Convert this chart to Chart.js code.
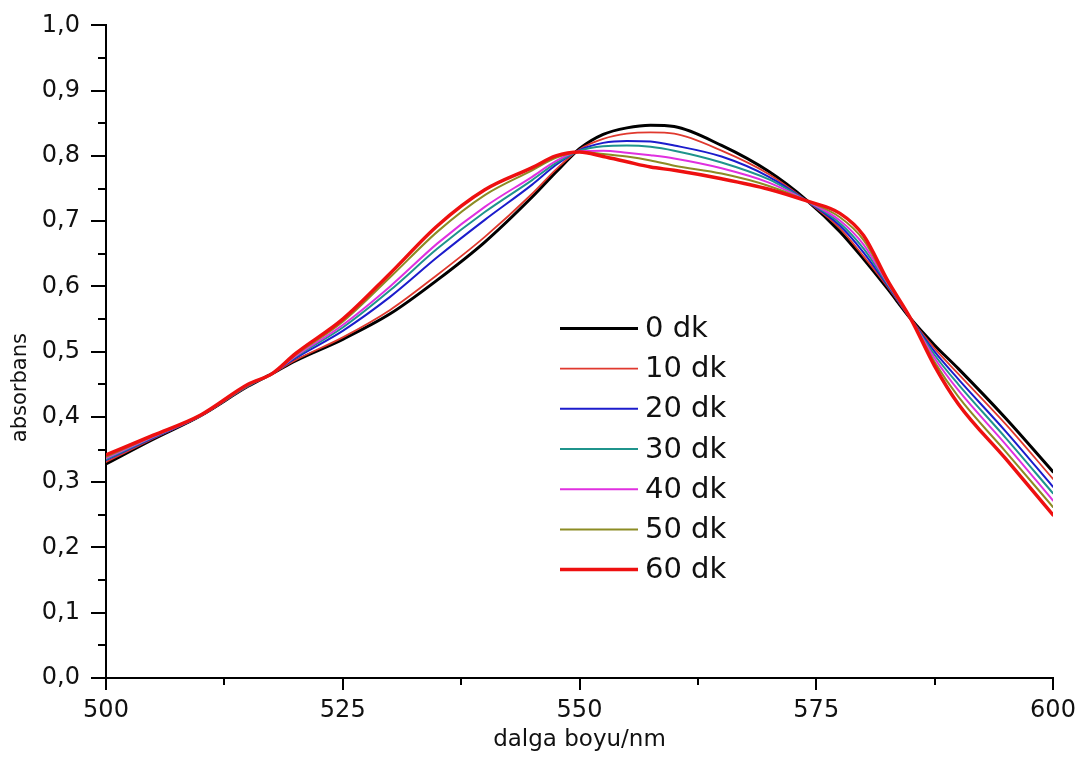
<!DOCTYPE html>
<html>
<head>
<meta charset="utf-8">
<script src="https://cdn.jsdelivr.net/npm/chart.js@4"></script>
<style>
    body { margin: 0; background: #fff; }
    #wrap { width: 1090px; height: 760px; }
</style>
</head>
<body>
<div id="wrap"><canvas id="chart" width="1090" height="760"></canvas></div>
<script>
//Wavelengths (nm) and absorbance for each time step
const wavelengths = [500, 505, 510, 515, 517.5, 520, 525, 530, 535, 540, 545, 547.5, 550, 552.5,
    555, 557.5, 560, 565, 570, 574, 577.5, 580, 582.5, 585, 587.5, 590, 595, 600];

const dk0 = [0.328, 0.366, 0.402, 0.447, 0.466, 0.486, 0.519, 0.558, 0.610, 0.668, 0.737, 0.775, 0.811, 0.833,
    0.843, 0.847, 0.845, 0.816, 0.776, 0.732, 0.684, 0.642, 0.597, 0.550, 0.510, 0.474, 0.398, 0.316];
const dk10 = [0.331, 0.367, 0.402, 0.447, 0.466, 0.487, 0.522, 0.564, 0.618, 0.676, 0.742, 0.779, 0.810, 0.826,
    0.834, 0.836, 0.834, 0.808, 0.772, 0.731, 0.689, 0.646, 0.600, 0.550, 0.505, 0.466, 0.389, 0.305];
const dk20 = [0.334, 0.368, 0.402, 0.448, 0.466, 0.490, 0.532, 0.584, 0.645, 0.702, 0.756, 0.786, 0.809, 0.820,
    0.823, 0.822, 0.816, 0.799, 0.768, 0.731, 0.693, 0.652, 0.602, 0.550, 0.500, 0.458, 0.378, 0.293];
const dk30 = [0.335, 0.369, 0.402, 0.448, 0.466, 0.492, 0.537, 0.594, 0.658, 0.714, 0.763, 0.789, 0.808, 0.815,
    0.816, 0.814, 0.808, 0.790, 0.764, 0.731, 0.697, 0.658, 0.604, 0.550, 0.495, 0.450, 0.368, 0.283];
const dk40 = [0.337, 0.370, 0.402, 0.449, 0.466, 0.493, 0.541, 0.600, 0.666, 0.722, 0.768, 0.792, 0.807, 0.808,
    0.805, 0.801, 0.796, 0.781, 0.759, 0.731, 0.701, 0.664, 0.606, 0.550, 0.490, 0.441, 0.358, 0.272];
const dk50 = [0.339, 0.371, 0.403, 0.449, 0.466, 0.495, 0.546, 0.614, 0.684, 0.740, 0.778, 0.797, 0.806, 0.803,
    0.799, 0.793, 0.785, 0.773, 0.754, 0.731, 0.706, 0.671, 0.608, 0.550, 0.484, 0.431, 0.347, 0.262];
const dk60 = [0.342, 0.372, 0.403, 0.450, 0.466, 0.497, 0.550, 0.620, 0.693, 0.748, 0.782, 0.800, 0.806, 0.799,
    0.791, 0.783, 0.778, 0.765, 0.749, 0.731, 0.712, 0.678, 0.610, 0.550, 0.478, 0.420, 0.336, 0.250];

const seriesLabels = ['0 dk', '10 dk', '20 dk', '30 dk', '40 dk', '50 dk', '60 dk'];
const seriesValues = [dk0, dk10, dk20, dk30, dk40, dk50, dk60];
const seriesColors = ['#000000', '#e0392e', '#1c1ccc', '#1f948c', '#e030e0', '#8c8c24', '#ee1010'];
const seriesWidths = [3, 1.8, 2, 2, 2, 2, 3.5];

const xTicks = [500, 525, 550, 575, 600];
const yMinorTicks = [0.05, 0.15, 0.25, 0.35, 0.45, 0.55, 0.65, 0.75, 0.85, 0.95];
const xMinorTicks = [512.5, 537.5, 562.5, 587.5];

const FONT = "'DejaVu Sans', sans-serif";

//Minor tick marks on both axes
const minorTicks = {
    id: 'minorTicks',
    afterDraw(chart) {
        const { ctx, scales: { x, y } } = chart;
        ctx.save();
        ctx.strokeStyle = '#000';
        ctx.lineWidth = 2;
        ctx.beginPath();
        xMinorTicks.forEach(v => {
            const px = Math.round(x.getPixelForValue(v));
            ctx.moveTo(px, y.bottom);
            ctx.lineTo(px, y.bottom + 7);
        });
        yMinorTicks.forEach(v => {
            const py = Math.round(y.getPixelForValue(v));
            ctx.moveTo(x.left, py);
            ctx.lineTo(x.left - 8, py);
        });
        ctx.stroke();
        ctx.restore();
    }
};

//Vertical axis title, sitting a bit below the middle
const yTitle = {
    id: 'yTitle',
    afterDraw(chart) {
        const { ctx, scales: { y } } = chart;
        ctx.save();
        ctx.translate(21, y.getPixelForValue(0.445));
        ctx.rotate(-Math.PI / 2);
        ctx.font = '21px ' + FONT;
        ctx.fillStyle = '#111';
        ctx.textAlign = 'center';
        ctx.textBaseline = 'middle';
        ctx.fillText('absorbans', 0, 0);
        ctx.restore();
    }
};

//Legend drawn inside the plot area
const innerLegend = {
    id: 'innerLegend',
    afterDraw(chart) {
        const { ctx, chartArea } = chart;
        const x0 = chartArea.left + 454;
        const y0 = chartArea.top + 303;
        ctx.save();
        ctx.font = '29px ' + FONT;
        ctx.textBaseline = 'middle';
        ctx.fillStyle = '#111';
        chart.data.datasets.forEach((ds, i) => {
            const yy = y0 + i * 40.2;
            ctx.strokeStyle = ds.borderColor;
            ctx.lineWidth = ds.borderWidth;
            ctx.beginPath();
            ctx.moveTo(x0, yy);
            ctx.lineTo(x0 + 78, yy);
            ctx.stroke();
            ctx.fillText(ds.label, x0 + 85, yy + 1);
        });
        ctx.restore();
    }
};

const ctx = document.getElementById('chart').getContext('2d');

const datasets = seriesValues.map((vals, i) => ({
    label: seriesLabels[i],
    data: wavelengths.map((w, j) => ({ x: w, y: vals[j] })),
    borderColor: seriesColors[i],
    borderWidth: seriesWidths[i],
    pointRadius: 0,
    cubicInterpolationMode: 'monotone',
    borderJoinStyle: 'round',
    borderCapStyle: 'round',
    order: 6 - i
}));

const myChart = new Chart(ctx, {
    type: 'line',
    data: { datasets: datasets },
    options: {
        responsive: false,
        animation: false,
        layout: {
            padding: { top: 21, right: 37, left: 0, bottom: 0 }
        },
        scales: {
            x: {
                type: 'linear',
                min: 500,
                max: 600,
                afterFit: (scale) => { scale.height = 82; },
                afterBuildTicks: (scale) => { scale.ticks = xTicks.map(v => ({ value: v })); },
                ticks: {
                    color: '#111',
                    padding: 6,
                    font: { family: FONT, size: 24 },
                    callback: (v) => String(v)
                },
                grid: {
                    drawOnChartArea: false,
                    color: '#000',
                    lineWidth: 2,
                    tickLength: 12
                },
                border: { color: '#000', width: 2 },
                title: {
                    display: true,
                    text: 'dalga boyu/nm',
                    color: '#111',
                    font: { family: FONT, size: 23 },
                    padding: { top: 0, bottom: 6 }
                }
            },
            y: {
                min: 0,
                max: 1,
                afterFit: (scale) => { scale.width = 106; },
                ticks: {
                    stepSize: 0.1,
                    color: '#111',
                    padding: 11,
                    font: { family: FONT, size: 24 },
                    callback: (v) => v.toFixed(1).replace('.', ',')
                },
                grid: {
                    drawOnChartArea: false,
                    color: '#000',
                    lineWidth: 2,
                    tickLength: 15
                },
                border: { color: '#000', width: 2 }
            }
        },
        plugins: {
            legend: { display: false },
            tooltip: { enabled: false }
        }
    },
    plugins: [minorTicks, yTitle, innerLegend]
});
</script>
</body>
</html>
